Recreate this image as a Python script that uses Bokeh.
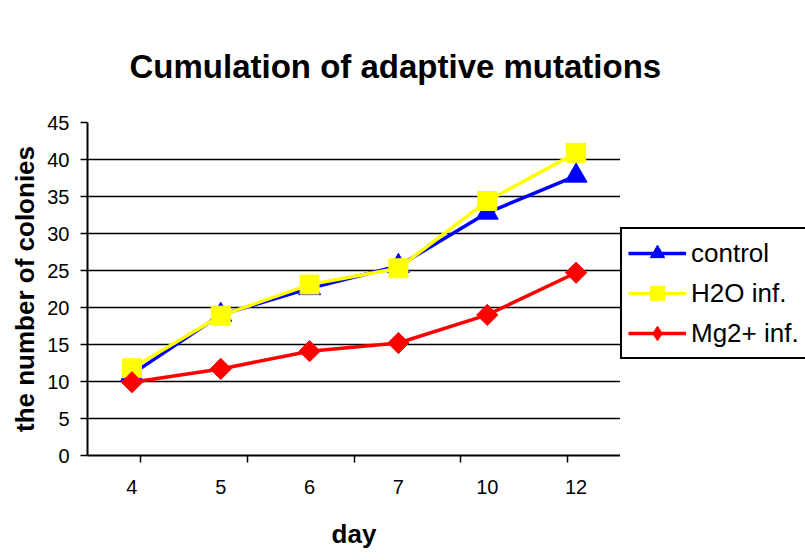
import math
from bokeh.plotting import figure
from bokeh.layouts import row, column
from bokeh.models import (FactorRange, Range1d, CategoricalAxis, FixedTicker,
                          Legend, LegendItem, Label)
from bokeh.embed import file_html
from bokeh.resources import INLINE

# ---- data ----
days = ["4", "5", "6", "7", "10", "12"]
control = [11.0, 19.0, 22.6, 25.6, 32.8, 37.8]
h2o_inf = [11.8, 18.9, 23.1, 25.3, 34.4, 40.9]
mg_inf = [9.9, 11.7, 14.1, 15.2, 19.0, 24.7]
y_ticks = [0, 5, 10, 15, 20, 25, 30, 35, 40, 45]
series_names = ["control", "H2O inf.", "Mg2+ inf."]
title_text = "Cumulation of adaptive mutations"
x_label = "day"
y_label = "the number of colonies"

FONT = "Liberation Sans"
colors = ["#0000FF", "#FFFF00", "#FF0000"]
series = [control, h2o_inf, mg_inf]


def bare_figure(**kw):
    f = figure(output_backend="svg", toolbar_location=None,
               x_axis_location=None, y_axis_location=None,
               min_border_left=0, min_border_right=0, min_border_top=0,
               min_border_bottom=0, outline_line_color=None,
               background_fill_color="white", border_fill_color="white", **kw)
    f.grid.grid_line_color = None
    return f


# ---- title strip ----
tf = bare_figure(width=805, height=110, x_range=Range1d(0, 1), y_range=Range1d(0, 1))
tf.add_layout(Label(x=129, y=44, x_units="screen", y_units="screen", text=title_text,
                    text_font=FONT, text_font_size="33px", text_font_style="bold",
                    text_color="black", text_baseline="middle", text_align="left"))

# ---- main plot ----
p = figure(x_range=FactorRange(*days), y_range=Range1d(0, 45),
           width=620, height=450, output_backend="svg", toolbar_location=None,
           x_axis_location=None, y_axis_location="left",
           min_border_left=87, min_border_right=0, min_border_top=12,
           min_border_bottom=105, background_fill_color="white",
           border_fill_color="white", outline_line_color=None)

ya = p.yaxis[0]
ya.ticker = FixedTicker(ticks=y_ticks)
ya.axis_line_width = 2
ya.axis_line_color = "black"
ya.major_tick_out = 7
ya.major_tick_in = 0
ya.major_tick_line_width = 1.5
ya.minor_tick_line_color = None
ya.major_label_text_font = FONT
ya.major_label_text_font_size = "20px"
ya.major_label_text_color = "black"
ya.major_label_standoff = 11
ya.axis_label = y_label
ya.axis_label_text_font = FONT
ya.axis_label_text_font_size = "26px"
ya.axis_label_text_font_style = "bold"
ya.axis_label_text_color = "black"
ya.axis_label_standoff = 4

p.ygrid.ticker = FixedTicker(ticks=y_ticks)
p.ygrid.grid_line_color = "black"
p.ygrid.grid_line_width = 1.5
p.xgrid.grid_line_color = None

# x axes: tick marks at category edges (helper factor range whose factor
# centres fall on the category boundaries), then category labels
edge_factors = ["e%d" % i for i in range(len(days) + 1)]
p.extra_x_ranges = {"edges": FactorRange(*edge_factors, range_padding=-1,
                                         range_padding_units="absolute")}
tick_axis = CategoricalAxis(x_range_name="edges",
                            major_label_text_font_size="0px", major_label_text_alpha=0,
                            major_label_standoff=0,
                            major_tick_out=7, major_tick_in=0, major_tick_line_width=1.5,
                            minor_tick_line_color=None, axis_line_width=2,
                            axis_line_color="black")
p.add_layout(tick_axis, "below")
cat_axis = CategoricalAxis(axis_line_color=None, major_tick_line_color=None,
                           major_label_text_font=FONT, major_label_text_font_size="20px",
                           major_label_text_color="black",
                           major_label_standoff=11,
                           axis_label=x_label, axis_label_text_font=FONT,
                           axis_label_text_font_size="26px",
                           axis_label_text_font_style="bold",
                           axis_label_text_color="black",
                           axis_label_standoff=22)
p.add_layout(cat_axis, "below")

lw = 3.5
p.line(days, control, line_color=colors[0], line_width=lw)
p.scatter(days, control, marker="triangle", size=22, fill_color=colors[0],
          line_color=colors[0])
p.line(days, h2o_inf, line_color=colors[1], line_width=lw)
p.scatter(days, h2o_inf, marker="square", size=19, fill_color=colors[1],
          line_color=colors[1])
p.line(days, mg_inf, line_color=colors[2], line_width=lw)
p.scatter(days, mg_inf, marker="square", angle=math.pi / 4, size=15,
          fill_color=colors[2], line_color=colors[2])

# ---- legend panel to the right of the plot ----
lg = bare_figure(width=185, height=450, x_range=FactorRange(*days),
                 y_range=Range1d(0, 45))
markers = ["triangle", "square", "diamond"]
items = []
for name, col, mk, vals in zip(series_names, colors, markers, series):
    rl = lg.line(days, vals, line_color=col, line_width=lw, visible=False)
    rm = lg.scatter(days, vals, marker=mk, size=15, fill_color=col, line_color=col,
                    visible=False)
    items.append(LegendItem(label=name, renderers=[rl, rm]))

legend = Legend(items=items, location=(0, 96), orientation="vertical",
                label_text_font=FONT, label_text_font_size="26px",
                label_text_color="black",
                glyph_width=58, glyph_height=36, label_height=36, spacing=4,
                padding=6, margin=0, label_standoff=5,
                border_line_color="black", border_line_width=2, border_line_alpha=1,
                background_fill_color="white", background_fill_alpha=1,
                inactive_fill_alpha=0)
lg.add_layout(legend, "center")

layout = column(tf, row(p, lg, spacing=0), spacing=0)
open("out.html", "w").write(file_html(layout, INLINE))
